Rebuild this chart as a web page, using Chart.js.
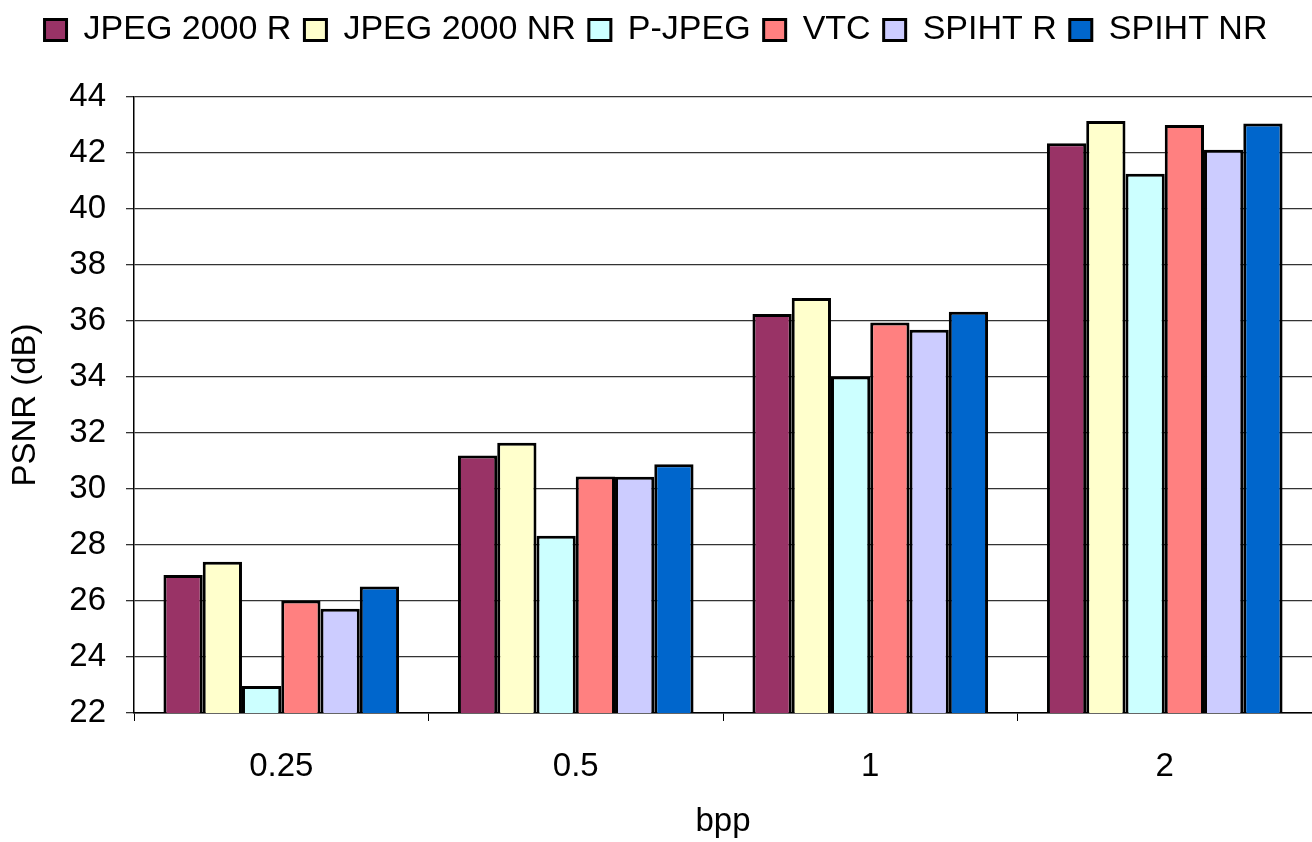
<!DOCTYPE html>
<html>
<head>
<meta charset="utf-8">
<script src="https://cdn.jsdelivr.net/npm/chart.js@4/dist/chart.umd.min.js"></script>
<style>
  html, body { margin: 0; padding: 0; background: #fff; }
  #wrap { width: 1312px; height: 842px; }
</style>
</head>
<body>
<div id="wrap"><canvas id="myChart" width="1312" height="842"></canvas></div>
<script>
// bits per pixel
const bpp = ["0.25", "0.5", "1", "2"];

const seriesNames = ["JPEG 2000 R", "JPEG 2000 NR", "P-JPEG", "VTC", "SPIHT R", "SPIHT NR"];

// PSNR values (dB)
const jpeg2000R  = [26.93, 31.2, 36.25, 42.35];
const jpeg2000NR = [27.4, 31.65, 36.82, 43.14];
const pJpeg      = [22.96, 28.33, 34.02, 41.26];
const vtc        = [26.02, 30.45, 35.95, 43.0];
const spihtR     = [25.72, 30.44, 35.69, 42.12];
const spihtNR    = [26.52, 30.88, 36.33, 43.05];

const yTicks = [22, 24, 26, 28, 30, 32, 34, 36, 38, 40, 42, 44];

const colors = ["#993366", "#FFFFCC", "#CCFFFF", "#FF8080", "#CCCCFF", "#0066CC"];
const allSeries = [jpeg2000R, jpeg2000NR, pJpeg, vtc, spihtR, spihtNR];

const font = "'Liberation Sans', Arial, Helvetica, sans-serif";

// force the legend band height so the plot starts where the reference does
const legendHeight = {
  id: "legendHeight",
  afterInit(chart) {
    const lg = chart.legend;
    const orig = lg.fit;
    lg.fit = function () {
      orig.call(this);
      this.height = 97;
    };
  }
};

new Chart(document.getElementById("myChart"), {
  type: "bar",
  data: {
    labels: bpp,
    datasets: allSeries.map((vals, i) => ({
      label: seriesNames[i],
      data: vals,
      backgroundColor: colors[i],
      borderColor: "#000",
      borderWidth: 3,
      borderSkipped: false,
      categoryPercentage: 0.8,
      barPercentage: 1.0
    }))
  },
  options: {
    responsive: false,
    animation: false,
    layout: { padding: { left: 0, right: 0, top: 0, bottom: 0 } },
    plugins: {
      legend: {
        position: "top",
        labels: {
          color: "#000",
          font: { family: font, size: 34 },
          boxWidth: 22,
          boxHeight: 21,
          padding: 13
        }
      },
      tooltip: { enabled: false }
    },
    scales: {
      x: {
        grid: {
          offset: true,
          drawOnChartArea: false,
          drawTicks: true,
          tickLength: 8,
          color: "#000"
        },
        border: { color: "#000", width: 1.5 },
        ticks: {
          color: "#000",
          font: { family: font, size: 33 },
          padding: 26
        },
        title: {
          display: true,
          text: "bpp",
          color: "#000",
          font: { family: font, size: 33 },
          padding: { top: 10, bottom: 0 }
        },
        afterFit(scale) { scale.height = 129; }
      },
      y: {
        min: 22,
        max: 44,
        afterBuildTicks(scale) { scale.ticks = yTicks.map(v => ({ value: v })); },
        grid: {
          color: "#333",
          lineWidth: 1.3,
          tickLength: 8
        },
        border: { color: "#000", width: 1.5 },
        ticks: {
          color: "#000",
          font: { family: font, size: 33 },
          padding: 20
        },
        title: {
          display: true,
          text: "PSNR (dB)",
          color: "#000",
          font: { family: font, size: 33 },
          padding: { top: 6, bottom: 0 }
        },
        afterFit(scale) { scale.width = 134; }
      }
    }
  },
  plugins: [legendHeight]
});
</script>
</body>
</html>
